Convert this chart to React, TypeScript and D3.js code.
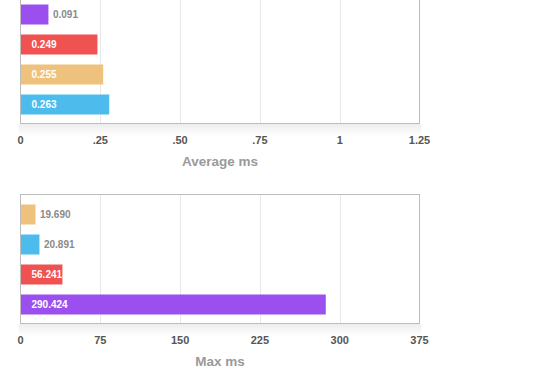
import React from "react";
import * as d3 from "d3";

// Series colours
const seriesKeys = ["purple", "red", "orange", "blue"];
const seriesColors = ["#9b4fee", "#ef5250", "#eec17c", "#4dbbec"];

// Panel 1: Average ms
const avgOrder = ["purple", "red", "orange", "blue"];
const avgValues = [0.0875, 0.241, 0.259, 0.278];
const avgLabels = ["0.091", "0.249", "0.255", "0.263"];
const avgTicks = [0, 0.25, 0.5, 0.75, 1, 1.25];
const avgTickLabels = ["0", ".25", ".50", ".75", "1", "1.25"];

// Panel 2: Max ms
const maxOrder = ["orange", "blue", "red", "purple"];
const maxValues = [14.06, 17.8, 39.4, 286.9];
const maxLabels = ["19.690", "20.891", "56.241", "290.424"];
const maxTicks = [0, 75, 150, 225, 300, 375];
const maxTickLabels = ["0", "75", "150", "225", "300", "375"];

const W = 560;
const H = 390;
const FONT = "'Liberation Sans', Arial, Helvetica, sans-serif";
const color = d3.scaleOrdinal<string, string>().domain(seriesKeys).range(seriesColors);

type PanelProps = {
  id: string;
  top: number;
  order: string[];
  values: number[];
  labels: string[];
  ticks: number[];
  tickLabels: string[];
  title: string;
};

function Panel({ id, top, order, values, labels, ticks, tickLabels, title }: PanelProps) {
  const left = 20.5;
  const right = 419.5;
  const height = 129;
  const bottom = top + height;
  const x = d3.scaleLinear().domain([ticks[0], ticks[ticks.length - 1]]).range([left, right]);
  const y = d3
    .scaleBand<string>()
    .domain(order)
    .range([top + 5, top + 125])
    .paddingInner(1 / 3)
    .paddingOuter(1 / 6);
  return (
    <g>
      <defs>
        <linearGradient id={`shadow-${id}`} x1="0" y1="0" x2="0" y2="1">
          <stop offset="0" stopColor="#000" stopOpacity={0.07} />
          <stop offset="1" stopColor="#000" stopOpacity={0} />
        </linearGradient>
      </defs>
      <rect x={left - 2} y={bottom + 0.5} width={right - left + 4} height={12} fill={`url(#shadow-${id})`} />
      <rect x={left} y={top} width={right - left} height={height} fill="#fff" />
      {ticks.slice(1, -1).map((t) => (
        <line key={t} x1={Math.round(x(t)) + 0.5} x2={Math.round(x(t)) + 0.5} y1={top} y2={bottom} stroke="#e8e8e8" strokeWidth={1} />
      ))}
      {order.map((k, i) => {
        const x0 = x(0);
        const x1 = x(values[i]);
        const w = x1 - x0;
        const yy = y(k)!;
        const inside = w > 35;
        return (
          <g key={k}>
            <rect x={x0} y={yy} width={w} height={y.bandwidth()} fill={color(k)} />
            <text
              x={inside ? x0 + 11 : x1 + 4.5}
              y={yy + y.bandwidth() / 2}
              dy="0.35em"
              fontFamily={FONT}
              fontSize={10}
              fontWeight="bold"
              fill={inside ? "#fff" : "#8a8a8a"}
            >
              {labels[i]}
            </text>
          </g>
        );
      })}
      <rect x={left} y={top} width={right - left} height={height} fill="none" stroke="#bcbcbc" strokeWidth={1} />
      {ticks.map((t, i) => (
        <text key={t} x={x(t)} y={bottom + 20} textAnchor="middle" fontFamily={FONT} fontSize={11} fontWeight="bold" fill="#555">
          {tickLabels[i]}
        </text>
      ))}
      <text x={(left + right) / 2} y={bottom + 42} textAnchor="middle" fontFamily={FONT} fontSize={13.5} fontWeight="bold" fill="#9a9a9a">
        {title}
      </text>
    </g>
  );
}

export default function App() {
  return (
    <svg width={W} height={H} style={{ position: "absolute", left: 0, top: 0, background: "#fff" }}>
      <Panel
        id="avg"
        top={-5.5}
        order={avgOrder}
        values={avgValues}
        labels={avgLabels}
        ticks={avgTicks}
        tickLabels={avgTickLabels}
        title="Average ms"
      />
      <Panel
        id="max"
        top={194.5}
        order={maxOrder}
        values={maxValues}
        labels={maxLabels}
        ticks={maxTicks}
        tickLabels={maxTickLabels}
        title="Max ms"
      />
    </svg>
  );
}
